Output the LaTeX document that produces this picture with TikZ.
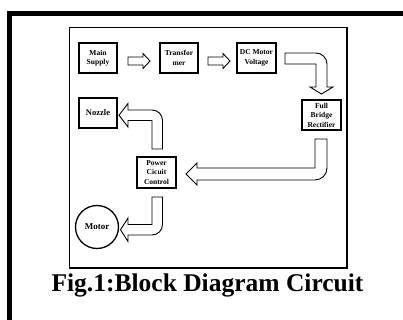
\documentclass[tikz,border=0pt]{standalone}
\usepackage{fontspec}
\setmainfont{Liberation Serif}
\begin{document}
\begin{tikzpicture}[x=1pt,y=-1pt,
  blk/.style={draw,line width=1.3pt,fill=white,minimum width=38pt,minimum height=30pt,inner sep=0pt,align=center,font=\bfseries\fontsize{7.5}{9.5}\selectfont},
  barrow/.style={draw,line width=0.9pt,fill=white,line join=miter}]
\useasboundingbox (0,0) rectangle (403,320);
\clip (0,0) rectangle (403,320);
\fill[white] (0,0) rectangle (403,320);
% outer frame
\draw[line width=5pt] (9.7,330) -- (9.7,13.8) -- (410,13.8);
% inner frame
\draw[line width=1.6pt] (69.5,27.5) rectangle (347,268);
% blocks
\node[blk] (main) at (98,58) {Main\\Supply};
\node[blk] (trans) at (179,58) {Transfor\\mer};
\node[blk,minimum width=39pt] (dc) at (256.5,58) {DC Motor\\Voltage};
\node[blk,minimum width=39pt] (rect) at (321.5,115) {Full\\Bridge\\Rectifier};
\node[blk,font=\bfseries\fontsize{8.5}{10}\selectfont] (noz) at (98,113) {Nozzle};
\node[blk,minimum width=39pt,minimum height=31pt] (pcc) at (156.5,172.5) {Power\\Cicuit\\Control};
\node[draw,circle,line width=1.3pt,minimum size=43pt,inner sep=0pt,font=\bfseries\fontsize{9}{10}\selectfont] (motor) at (97,227) {Motor};
% block arrows
\draw[barrow] (128,57) -- (143,57) -- (143,53.5) -- (150,61) -- (143,68.5) -- (143,65) -- (128,65) -- cycle;
\draw[barrow] (208,57) -- (223,57) -- (223,53.5) -- (230,61) -- (223,68.5) -- (223,65) -- (208,65) -- cycle;
\draw[barrow] (285,53) -- (316,53) .. controls (322,53) and (327,58) .. (327,64) -- (327,87) -- (333,87) -- (321.5,94) -- (310,87) -- (316,87) -- (316,64) -- (285,64) -- cycle;
\draw[barrow] (315,139) -- (327,139) -- (327,168) .. controls (327,174.6) and (321.6,180) .. (315,180) -- (197,180) -- (197,185) -- (186,174) -- (197,163) -- (197,168) -- (315,168) -- cycle;
\draw[barrow] (152,149) -- (152,120.5) -- (128,120.5) -- (128,127) -- (119,115.25) -- (128,103.5) -- (128,110) -- (152,110) .. controls (157.8,110) and (162.5,114.7) .. (162.5,120.5) -- (162.5,149) -- cycle;
\draw[barrow] (152,197) -- (162.5,197) -- (162.5,224.5) .. controls (162.5,230.3) and (157.8,235) .. (152,235) -- (128,235) -- (128,241.5) -- (120.5,229.75) -- (128,218) -- (128,224.5) -- (152,224.5) -- cycle;
% caption
\node[font=\bfseries\fontsize{25.5}{28}\selectfont,anchor=base,inner sep=0pt] (cap) at (207.5,291) {Fig.1:Block Diagram Circuit};
\end{tikzpicture}
\end{document}
